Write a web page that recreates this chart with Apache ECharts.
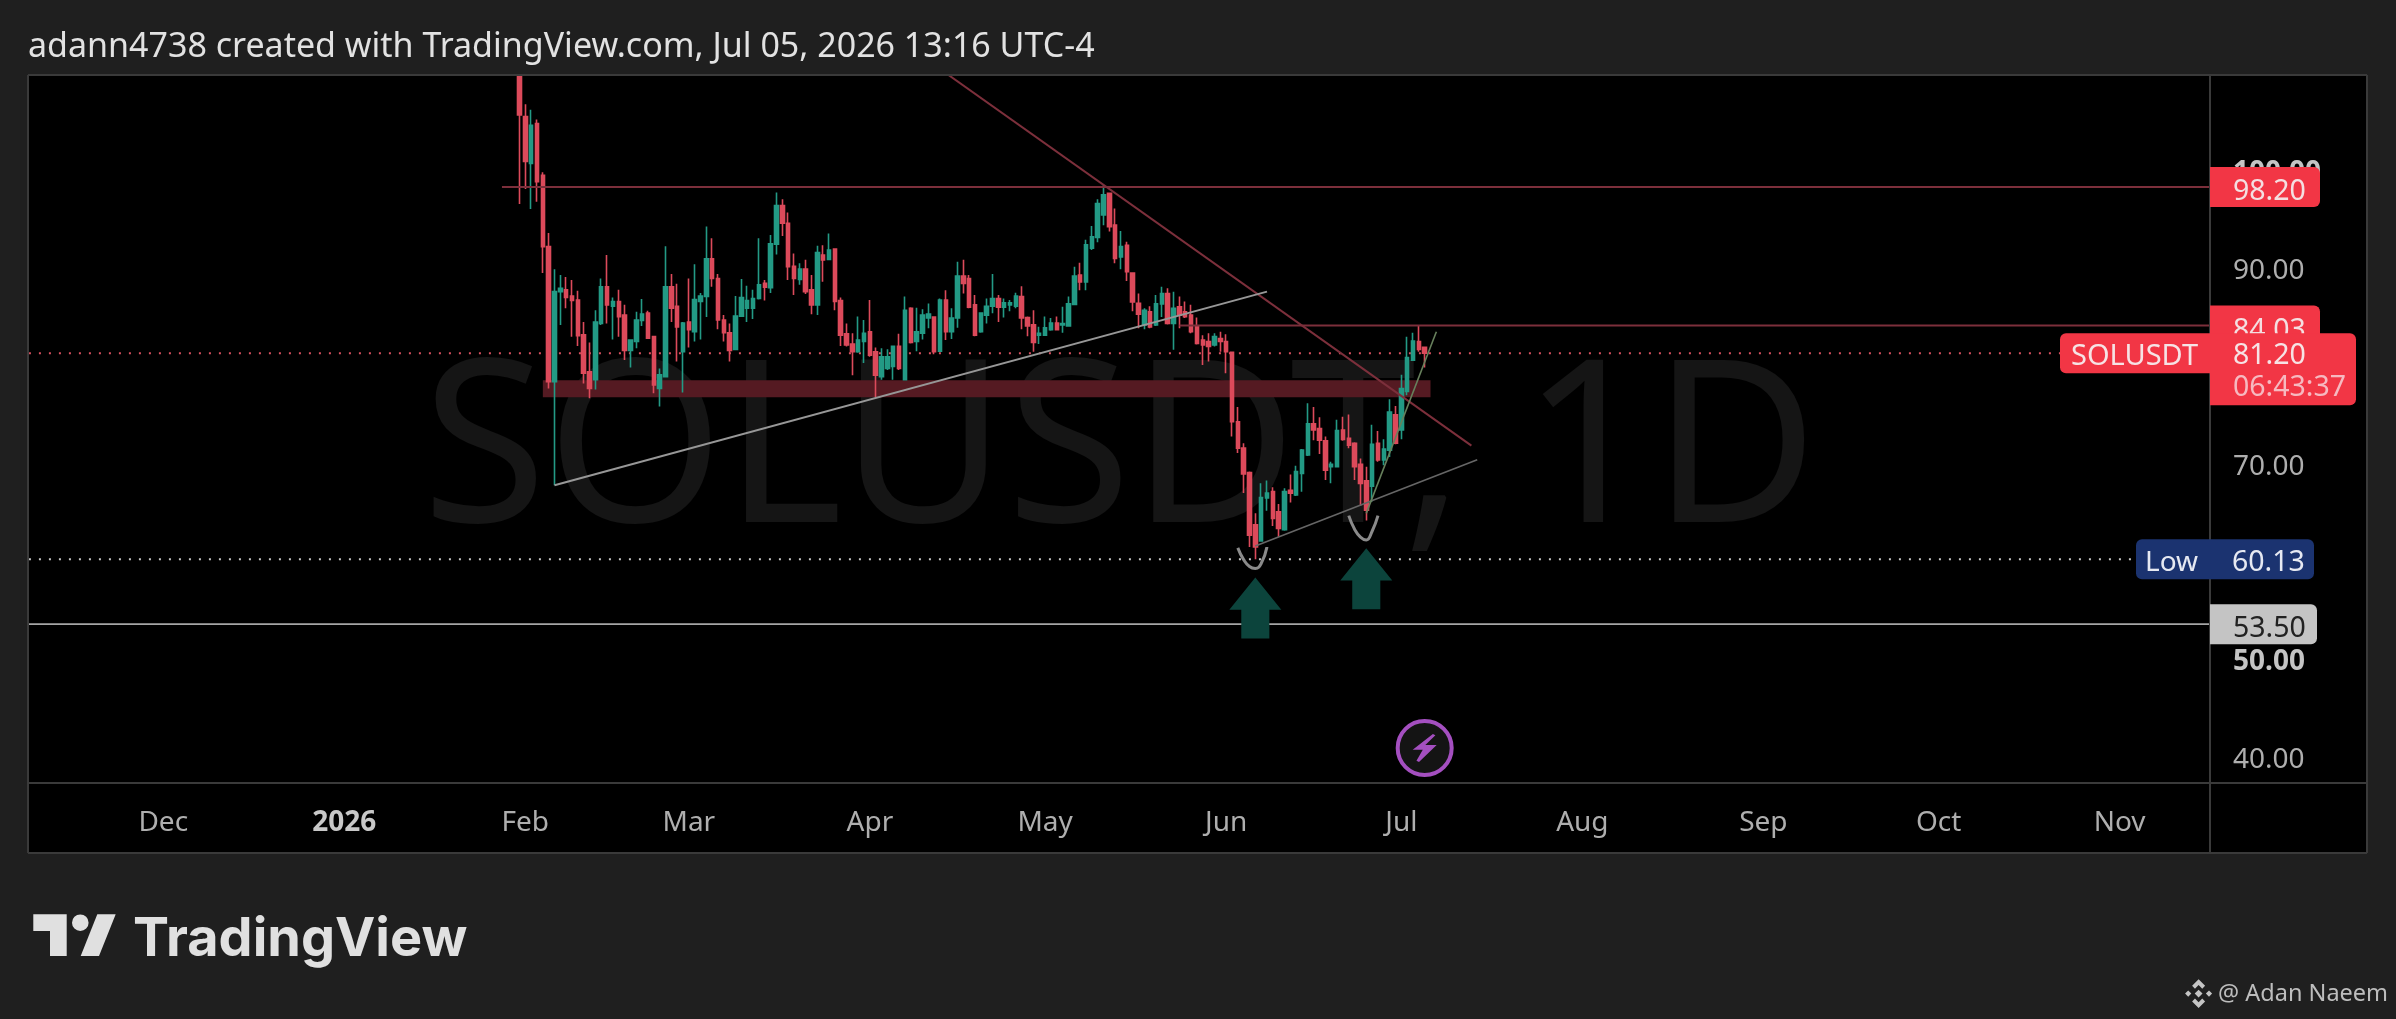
<!DOCTYPE html>
<html><head><meta charset="utf-8">
<style>html,body{margin:0;padding:0;background:#1f1f1f}#c{width:2396px;height:1019px}</style>
<script src="https://cdn.jsdelivr.net/npm/echarts@6/dist/echarts.min.js"></script>
</head><body><div id="c"></div>
<script>
var opens=[109.6,105.4,100.6,104.7,99.4,92.1,78.3,87.5,87.7,87.05,
86.65,83.1,79.3,78.5,84.25,88,86,86.5,85.1,81.5,
82.4,84.55,85.3,82.9,77.6,78.8,88,86,81.35,84.4,
83.4,86.5,87,90.85,88.85,84.6,83.3,81.6,85,85.8,
85.8,86.8,88.35,87.9,92.35,96.3,94.5,90.1,88.75,89.8,
87.7,86.15,91.25,90.8,91.85,86.6,83.2,82.15,81.35,82.4,
83.4,81.35,78.8,79.65,79.85,81.9,78.5,85.8,82.4,83.25,
84.8,84.9,81.4,86.65,83.4,84.8,89.1,88.85,86.15,83.4,
85.1,86,86.8,85.9,86.15,86,87,84.85,84.1,83.05,
83.05,83.6,84.3,84.1,84,86.2,89.2,88.5,91.95,93.05,
95.35,97.55,94.3,91.05,92.25,89.4,86.3,84.1,85.45,84.1,
86.25,87.3,84.25,85.95,85.45,85.1,83.9,82.55,82.4,82.05,
82.7,82.4,81.3,74.2,71.5,69,63.65,62,66.4,67.05,
65,63.15,67.2,66.7,68.9,70.8,74,73.5,72.25,69.6,
69.6,73.35,72.5,72,69.85,68.15,67.6,72,70.3,71.3,
74.9,73.35,77.3,80.5,82.4,81.8];
var closes=[105.57,100.8,104.5,98.75,92.1,78.3,87.5,87.85,86.9,86.6,
83,79.15,77.6,84.4,88,86.15,86.5,84.95,81.5,82.55,
84.6,85.2,82.75,77.95,79,88,85.8,83.9,84.3,83.6,
86.7,87.05,90.85,88.85,84.6,83.3,81.5,85,86.9,86.6,
86.8,88.2,87.95,92.4,96.3,94.5,90.05,88.85,89.8,87.5,
86.15,91.5,90.75,91.75,86.5,83.05,82.05,81.35,82.55,83.25,
81,78.95,80.85,80.85,81.9,79.65,85.6,82.3,83.4,85.1,
85.2,81.35,86.65,83.4,84.8,89.1,88.35,85.9,83.05,85.3,
86,86.8,85.9,86.35,86.35,87.05,84.8,84,82.3,83.25,
83.8,84.3,83.6,84.25,86.25,89.1,88.5,92.3,93.1,96.5,
97.4,94.15,90.9,92.1,89.55,86.45,85.2,85.6,83.9,86.25,
87.3,84.25,85.8,85.1,84.95,83.4,82.2,82.05,81.9,82.9,
82.4,81.35,74.2,71.5,68.85,62.6,61.4,66.45,66.9,64.3,
63.3,67.05,66.9,69.1,71.3,74,73.35,72.3,69.25,69.85,
73.3,72.4,71.8,69.6,67.9,65.15,71.9,70.3,71.4,75.2,
72,77.6,80.75,82.45,81.6,81.2];
var highs=[109.65,106.66,106.1,105.1,99.7,93.5,89.8,89.2,89,88.7,
87.6,84.4,82.3,85.6,88.85,91.25,86.9,87.7,86.15,82.55,
85.45,86.75,85.55,82.9,79.65,92.15,89.3,88.3,84.4,88.85,
90.3,87.35,94.15,92.95,89.3,85.1,84.25,87.05,88.8,88.1,
87.7,92.95,88.7,93.3,97.65,96.95,95.6,91.4,90.4,90.75,
89.2,92.2,92.25,93.45,91.95,86.9,84.25,83.25,84.95,84.6,
86.65,81.8,81.7,81.6,82,83.2,87,85.9,85.85,85.7,
86.3,84.9,86.8,87.65,85.8,90.55,90.75,89.2,87.15,85.3,
86.8,89.3,87.15,86.8,86.65,87.4,88.05,84.95,85.6,83.9,
84.95,84.8,84.95,85.95,87,90.05,90.45,92.8,94.2,96.95,
98.4,97.65,96,93.7,92.6,89.45,87.3,85.8,86,87.15,
88,87.85,87.5,87,86.5,86.15,84.85,83.05,83.25,83.25,
83.4,83.15,81.35,75.7,72,69.1,64.85,67.9,68.2,67.5,
65.8,67.4,68.8,69.7,71.4,76.1,75.7,74.65,72.7,70.1,
74.4,74.7,74.95,72.1,70.45,69.6,73.9,73.25,72.4,76.5,
75.8,79,82.9,83.3,84.03,81.85];
var lows=[96.47,98,95.95,96.7,89.4,77.6,67.7,84.1,85.8,82.9,
81.95,78.1,76.6,77.5,84.1,84.25,82.6,82.9,80.5,79.75,
81.7,84,82.65,77.1,75.75,78.8,84.4,80.35,77.2,81.8,
82.4,82.6,84.9,88,83.65,82.4,80.35,81.5,84.95,84.4,
84.7,86.7,86.6,87.35,91.3,93.2,88.7,87.15,88.2,87.25,
85.2,85.1,88.5,90.75,85.6,81.95,81.9,78.95,81.25,80.2,
80.85,76.7,78.5,79.5,78.5,79.5,78.5,82.2,81.4,82.6,
83.75,81.1,81.4,82.55,82.65,83.8,87.3,85.8,82.95,83.3,
84.25,85.3,84.4,84.85,85.5,85.8,83.65,82.95,81.35,82.15,
83.05,83.5,83.6,83.3,84,86.2,87.65,87.65,91.75,92.55,
94.3,93.65,90.4,89.8,88.6,85.5,83.75,83.65,83.75,84,
84.9,84.15,81.55,83.75,84.8,83.25,82.1,80,80.35,81.9,
81.35,79.15,72.7,71,66.9,61.4,60.13,61.95,65.1,63.55,
62.45,63.05,65.95,66.6,67.05,70.7,72.3,70.9,68.25,67.9,
69.6,72.25,71.5,68.25,65.6,64.1,66,70.1,69.75,70.6,
71.9,72.4,76.9,80.5,81.35,79.75];

var monthLabels={'2025-12-01':'Dec','2026-01-01':'2026','2026-02-01':'Feb','2026-03-01':'Mar','2026-04-01':'Apr','2026-05-01':'May','2026-06-01':'Jun','2026-07-01':'Jul','2026-08-01':'Aug','2026-09-01':'Sep','2026-10-01':'Oct','2026-11-01':'Nov'};
var priceTicks=[40,50,60,70,80,90,100];
var titleText='adann4738 created with TradingView.com, Jul 05, 2026 13:16 UTC-4';
var watermarkText='SOLUSDT, 1D';
var resistanceTop=98.20, resistanceMid=84.03, lastPrice=81.20, lowPrice=60.13, support=53.50;
var bandTop=78.44, bandBottom=76.7;

// dates: axis runs from 2025-11-08; candle 0 is 2026-01-31
var categories=[];
(function(){var t=Date.UTC(2025,10,8);for(var k=0;k<375;k++){categories.push(new Date(t+k*864e5).toISOString().slice(0,10));}})();
var FIRST=84;
function d(i){return categories[FIRST+i];}
var lastCat=categories[categories.length-1], firstCat=categories[0];

// drawings: [candle index, price]
var trendDown=[[73,109.85],[163,71.75]];
var trendUpLong=[[6,67.7],[128,87.5]];
var trendUpShort=[[126,61.5],[164,70.3]];
var trendSteep=[[145,64.83],[157,83.4]];
var curveA=[[123,61.3],[124,60.1],[125,59.4],[126,59.2],[127,59.7],[128,61.4]];
var curveB=[[142,64.6],[143,63.2],[144,62.4],[145,62.1],[146,63],[147,64.6]];
var arrows=[[126,55.15],[145,58.15]];
var flash=[155,40.84];

function pts(a){return a.map(function(p){return [d(p[0]),p[1]];});}
function line(data,color,width,opt){
  var s={type:'line',data:data,symbol:'none',silent:true,z:3,animation:false,
    lineStyle:{color:color,width:width,type:'solid'}};
  for(var k in opt){s[k]=opt[k];}
  return s;
}
var font='"Noto Sans"';
var RED='#dc4a5b',GREEN='#239a85',LINE_RED='#7c2f3b';

var chart=echarts.init(document.getElementById('c'),null,{width:2396,height:1019});
chart.setOption({
  animation:false,
  backgroundColor:'#1f1f1f',
  title:{text:titleText,left:23,top:25,textStyle:{color:'#e2e2e2',fontFamily:font,fontWeight:'normal',fontSize:34}},
  grid:{left:26,width:2190,top:75,height:708,containLabel:false},
  xAxis:{type:'category',data:categories,boundaryGap:true,
    axisLine:{show:false},axisTick:{show:false},splitLine:{show:false},
    axisLabel:{margin:26,fontFamily:font,fontSize:28,color:'#aeaeae',
      interval:function(i,v){return !!monthLabels[v];},
      formatter:function(v){var t=monthLabels[v]||'';return t==='2026'?'{b|'+t+'}':t;},
      rich:{b:{fontFamily:font,fontSize:28,fontWeight:'bold',color:'#c8c8c8'}}}},
  yAxis:{type:'value',position:'right',min:37.26,max:109.652,
    axisLine:{show:false},axisTick:{show:false},splitLine:{show:false},
    axisLabel:{customValues:priceTicks,margin:17,padding:[8,0,0,0],fontFamily:font,fontSize:28,color:'#aeaeae',
      formatter:function(v){var t=v.toFixed(2);return (v===50||v===100)?'{b|'+t+'}':t;},
      rich:{b:{fontFamily:font,fontSize:28,fontWeight:'bold',color:'#c4c4c4'}}}},
  series:[
    {type:'line',data:[],silent:true,z:1,
      markArea:{silent:true,z:1,itemStyle:{color:'#551a22'},
        data:[[{xAxis:d(4),yAxis:bandTop},{xAxis:d(156),yAxis:bandBottom}]]}},
    line([[firstCat,lastPrice],[lastCat,lastPrice]],'#d8505f',2,{lineStyle:{color:'#d8505f',width:2,type:[2,8]},z:2}),
    line([[firstCat,lowPrice],[lastCat,lowPrice]],'#c8c8c8',2,{lineStyle:{color:'#c8c8c8',width:2,type:[2,8]},z:2}),
    {type:'candlestick',silent:true,z:2,barWidth:4,
      data:categories.map(function(c,k){var i=k-FIRST;return (i>=0&&i<opens.length)?[opens[i],closes[i],lows[i],highs[i]]:['-','-','-','-'];}),
      itemStyle:{color:GREEN,color0:RED,borderColor:GREEN,borderColor0:RED,borderWidth:1.6}},
    line([[d(-3),resistanceTop],[lastCat,resistanceTop]],LINE_RED,2),
    line([[d(113),resistanceMid],[lastCat,resistanceMid]],LINE_RED,2),
    line([[firstCat,support],[lastCat,support]],'#a6a6a6',1.6),
    line(pts(trendDown),LINE_RED,2),
    line(pts(trendUpLong),'#979797',2),
    line(pts(trendUpShort),'#666',1.6),
    line(pts(trendSteep),'#67805c',1.6),
    line(pts(curveA),'#8a8a8a',3,{smooth:true}),
    line(pts(curveB),'#8a8a8a',3,{smooth:true}),
    {type:'scatter',data:pts(arrows),symbol:'path://M50 0 L100 53 L77 53 L77 100 L23 100 L23 53 L0 53 Z',symbolSize:[52,61],
      itemStyle:{color:'#0c443c',opacity:1},z:4,silent:true},
    {type:'scatter',data:pts([flash]),symbol:'circle',symbolSize:54,
      itemStyle:{color:'#141414',borderColor:'#a44fc0',borderWidth:4,opacity:1},z:4,silent:true},
    {type:'scatter',data:pts([flash]),symbol:'path://M19 1 L3 14 L11 14 L6 23 L8 24 L22 10 L13 10 L21 2 Z',symbolSize:[24,28],
      itemStyle:{color:'#a44fc0',opacity:1},z:5,silent:true}
  ]
});

function py(v){return chart.convertToPixel({yAxisIndex:0},v);}
var AX=2210,TX=2233,FS='28.5px "Noto Sans"';
function rect(x,y,w,h,fill,r,z){return {type:'rect',silent:true,z:z,shape:{x:x,y:y,width:w,height:h,r:r||0},style:{fill:fill}};}
function txt(s,x,y,fill,fnt,z){return {type:'text',silent:true,z:z,style:{text:s,x:x,y:y,fill:fill,font:fnt||FS,textAlign:'left',textVerticalAlign:'middle'}};}
function seg(x1,y1,x2,y2,z){return {type:'line',silent:true,z:z,shape:{x1:x1,y1:y1,x2:x2,y2:y2},style:{stroke:'#3a3a3a',lineWidth:2}};}
function poly(points){return {type:'polygon',silent:true,shape:{points:points},style:{fill:'#c4c4c4'}};}
function fmt(v){return v.toFixed(2);}
var lx=2183,ly=978,lk=1.3;
function lp(a){return a.map(function(p){return [lx+p[0]*lk,ly+p[1]*lk];});}
var els=[
  rect(28,75,2339,778,'#000',0,-5),
  txt(watermarkText,422,457,'#151515','227px "Noto Sans"',-4),
  seg(28,75,2367,75,10),seg(28,783,2367,783,10),seg(28,853,2367,853,10),seg(28,75,28,853,10),seg(2367,75,2367,853,10),seg(AX,75,AX,853,10),
  // price tags
  rect(AX,py(resistanceTop)-20,110,40,'#f23645',[0,6,6,0],20),txt(fmt(resistanceTop),TX,py(resistanceTop)+5,'#f4dfe1',null,21),
  rect(AX,py(resistanceMid)-20,110,40,'#f23645',[0,6,6,0],20),txt(fmt(resistanceMid),TX,py(resistanceMid)+5,'#f4dfe1',null,21),
  rect(AX-150,py(lastPrice)-20,150,40,'#f23645',[6,0,0,6],22),txt('SOLUSDT',AX-139,py(lastPrice)+3,'#f6e3e5','29px "Noto Sans"',23),
  rect(AX,py(lastPrice)-20,146,72,'#f23645',[0,6,6,0],22),
  txt(fmt(lastPrice),TX,py(lastPrice)+3,'#f6e3e5',null,23),txt('06:43:37',TX,py(lastPrice)+35,'#f6b9c0',null,23),
  rect(AX-74,py(lowPrice)-20,74,40,'#1b3370',[6,0,0,6],22),txt('Low',AX-65,py(lowPrice)+4,'#e6e9f2','28px "Noto Sans"',23),
  rect(AX,py(lowPrice)-20,104,40,'#1b3370',[0,6,6,0],22),txt(fmt(lowPrice),TX-1,py(lowPrice)+4,'#e6e9f2',null,23),
  rect(AX,py(support)-20,107,40,'#c4c4c4',[0,6,6,0],22),txt(fmt(support),TX,py(support)+5,'#222',null,23),
  // TradingView logo
  {type:'polygon',silent:true,shape:{points:[[33.3,914.3],[66.7,914.3],[66.7,956],[50,956],[50,931],[33.3,931]]},style:{fill:'#e0e0e0'}},
  {type:'circle',silent:true,shape:{cx:80.3,cy:922.7,r:8.3},style:{fill:'#e0e0e0'}},
  {type:'polygon',silent:true,shape:{points:[[97.3,914.3],[115.7,914.3],[99,956],[80.7,956]]},style:{fill:'#e0e0e0'}},
  txt('TradingView',133,940,'#e0e0e0','700 54px Inter',1),
  // signature
  poly(lp([[12,1],[17,6],[14.8,8.2],[12,5.4],[9.2,8.2],[7,6]])),
  poly(lp([[12,23],[17,18],[14.8,15.8],[12,18.6],[9.2,15.8],[7,18]])),
  poly(lp([[4,9.6],[6.4,12],[4,14.4],[1.6,12]])),
  poly(lp([[20,9.6],[22.4,12],[20,14.4],[17.6,12]])),
  poly(lp([[12,9],[15,12],[12,15],[9,12]])),
  txt('@ Adan Naeem',2218,994,'#bdbdbd','23.5px "Noto Sans"',1)
];
chart.setOption({graphic:{elements:els}});
</script></body></html>
